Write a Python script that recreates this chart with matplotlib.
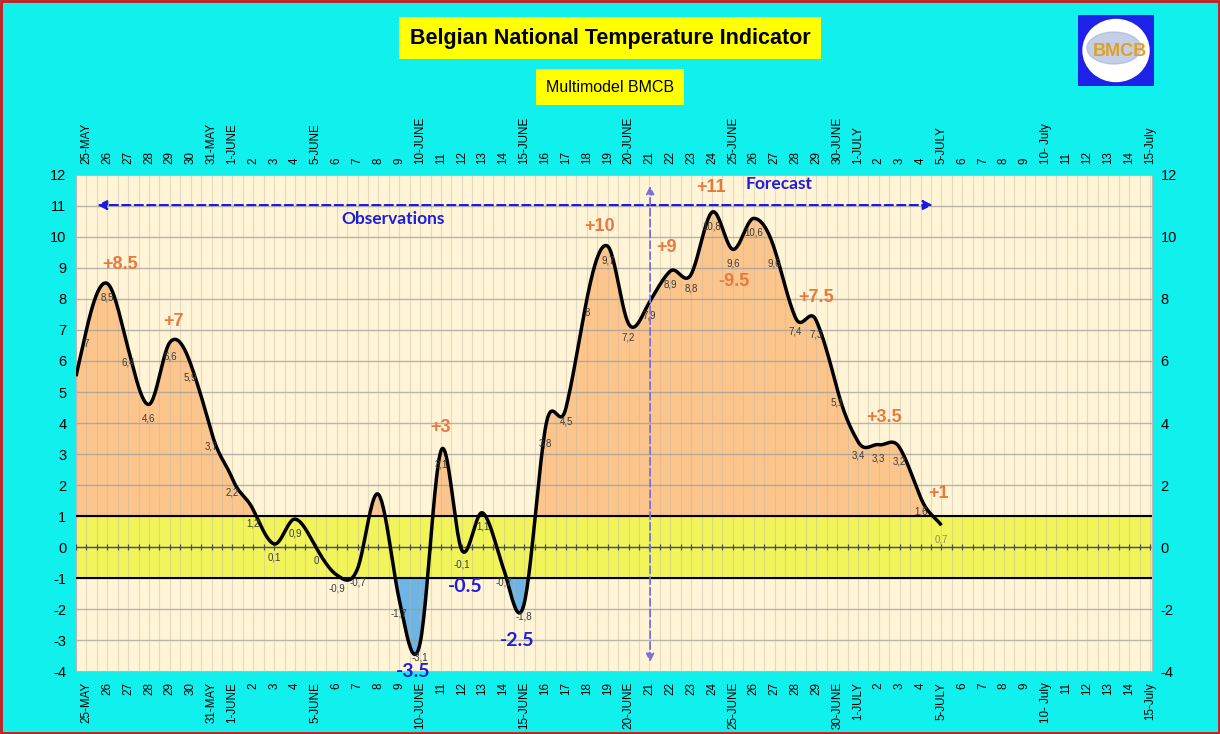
import numpy as np
import matplotlib
matplotlib.use("Agg")
import matplotlib.pyplot as plt
from matplotlib.patches import Rectangle, Ellipse

# Belgian National Temperature Indicator (multimodel BMCB)

# axis labels, 25 May .. 15 July
date_labels = (["25-MAY", "26", "27", "28", "29", "30", "31-MAY", "1-JUNE",
                "2", "3", "4", "5-JUNE", "6", "7", "8", "9", "10-JUNE",
                "11", "12", "13", "14", "15-JUNE", "16", "17", "18", "19",
                "20-JUNE", "21", "22", "23", "24", "25-JUNE", "26", "27",
                "28", "29", "30-JUNE", "1-JULY", "2", "3", "4", "5-JULY",
                "6", "7", "8", "9", "10- July", "11", "12", "13", "14", "15-July"])

# daily anomaly, day index 0 = 25 May (index -1 = 24 May, lead-in)
day_idx = list(range(-1, 42))
anomaly = [4.0, 7.0, 8.5, 6.4, 4.6, 6.6, 5.9, 3.7, 2.2, 1.2, 0.1, 0.9, 0.0,
           -0.9, -0.7, 1.7, -1.7, -3.1, 3.1, -0.1, 1.1, -0.7, -1.8, 3.8, 4.5,
           8.0, 9.7, 7.2, 7.9, 8.9, 8.8, 10.8, 9.6, 10.6, 9.6, 7.4, 7.3, 5.1,
           3.4, 3.3, 3.2, 1.6, 0.7]
# labels shown next to points ("" = hidden)
point_labels = ["", "7", "8,5", "6,4", "4,6", "6,6", "5,9", "3,7", "2,2", "1,2",
                "0,1", "0,9", "0", "-0,9", "-0,7", "", "-1,7", "-3,1", "3,1",
                "-0,1", "1,1", "-0,7", "-1,8", "3,8", "4,5", "8", "9,7", "7,2",
                "7,9", "8,9", "8,8", "10,8", "9,6", "10,6", "9,6", "7,4", "7,3",
                "5,1", "3,4", "3,3", "3,2", "1,6", "0,7"]

peak_text = ["+8.5", "+7", "+3", "+10", "+9", "+11", "-9.5", "+7.5", "+3.5", "+1"]
peak_x = [1.63, 4.16, 16.99, 24.6, 27.8, 29.95, 31.05, 34.98, 38.23, 40.86]
peak_y = [9.1, 7.29, 3.84, 10.35, 9.65, 11.6, 8.58, 8.06, 4.19, 1.71]

cold_text = ["-3.5", "-0.5", "-2.5"]
cold_x = [15.69, 18.18, 20.67]
cold_y = [-4.03, -1.26, -3.03]

CYAN = "#10F0EC"
CREAM = "#FFF4D6"
ORANGE = "#FCC58C"
BLUE_FILL = "#6DB5E6"
YELLOW = "#F2F55A"
ORANGE_TXT = "#E8783C"
BLUE_TXT = "#1E1EDC"


def smooth(x, y, k=1.3, n=24):
    # cardinal spline, a bit looser than catmull-rom (excel-like smoothing)
    x = np.asarray(x, float)
    y = np.asarray(y, float)
    m = np.zeros_like(y)
    m[1:-1] = k * (y[2:] - y[:-2]) / (x[2:] - x[:-2])
    m[0] = y[1] - y[0]
    m[-1] = y[-1] - y[-2]
    xs, ys = [], []
    for i in range(len(x) - 1):
        t = np.linspace(0, 1, n, endpoint=False)
        h = x[i + 1] - x[i]
        h00 = 2 * t**3 - 3 * t**2 + 1
        h10 = t**3 - 2 * t**2 + t
        h01 = -2 * t**3 + 3 * t**2
        h11 = t**3 - t**2
        xs.append(x[i] + t * h)
        ys.append(h00 * y[i] + h10 * h * m[i] + h01 * y[i + 1] + h11 * h * m[i + 1])
    xs.append([x[-1]])
    ys.append([y[-1]])
    return np.concatenate(xs), np.concatenate(ys)


plt.rcParams["font.family"] = ["Liberation Sans", "DejaVu Sans"]
plt.rcParams["axes.unicode_minus"] = False

fig = plt.figure(figsize=(12.2, 7.34), dpi=100, facecolor=CYAN)
fig.patches.append(Rectangle((0.001, 0.001), 0.998, 0.997, transform=fig.transFigure,
                             fill=False, edgecolor="#D01818", lw=2))

ax = fig.add_axes([0.0623, 0.0858, 0.8820, 0.6758])
ax.set_facecolor(CREAM)
xmin, xmax = -0.5, 51.1
ax.set_xlim(xmin, xmax)
ax.set_ylim(-4, 12)

xs, ys = smooth(day_idx, anomaly)
keep = xs >= xmin
xs, ys = xs[keep], ys[keep]

ax.axhspan(-1, 1, color=YELLOW, zorder=1, lw=0)
ax.fill_between(xs, ys, 1, where=ys > 1, interpolate=True, color=ORANGE, lw=0, zorder=1)
ax.fill_between(xs, ys, -1, where=ys < -1, interpolate=True, color=BLUE_FILL, lw=0, zorder=1)

# grid: half-day verticals, unit horizontals
for gx in np.arange(-0.5, xmax, 0.5):
    ax.axvline(gx, color="#BDB5A6", lw=0.8, alpha=0.4, zorder=2)
for gy in range(-3, 12):
    ax.axhline(gy, color="#9A9A9A", lw=1.0, alpha=0.7, zorder=2)
ax.axhline(1, color="black", lw=1.5, zorder=3)
ax.axhline(-1, color="black", lw=1.5, zorder=3)
ticks0 = np.arange(-0.5, xmax, 0.5)
ax.plot(ticks0, np.zeros_like(ticks0), color="#505050", lw=1, marker="|", ms=5,
        mew=0.9, zorder=3)

ax.plot(xs, ys, color="black", lw=2.5, zorder=5, solid_capstyle="butt")

for xi, yi, lab in zip(day_idx, anomaly, point_labels):
    if lab:
        col = "#8A8A6A" if xi == 41 else "#3A3A3A"
        ax.annotate(lab, (xi, yi), xytext=(0, -10), textcoords="offset points",
                    ha="center", va="center", fontsize=7, color=col, zorder=6)

for t, px, py in zip(peak_text, peak_x, peak_y):
    ax.text(px, py, t, ha="center", va="center", fontsize=13, fontweight="bold",
            color=ORANGE_TXT, zorder=7)
for t, px, py in zip(cold_text, cold_x, cold_y):
    ax.text(px, py, t, ha="center", va="center", fontsize=14, fontweight="bold",
            color=BLUE_TXT, family=["Lato", "DejaVu Sans"], zorder=7, clip_on=False)

ax.text(14.69, 10.58, "Observations", ha="center", va="center", fontsize=12.5,
        fontweight="bold", color=BLUE_TXT, family=["Lato", "DejaVu Sans"], zorder=7)
ax.text(33.2, 11.71, "Forecast", ha="center", va="center", fontsize=12.5,
        fontweight="bold", color=BLUE_TXT, family=["Lato", "DejaVu Sans"], zorder=7)

ax.annotate("", xy=(0.38, 11.03), xytext=(40.72, 11.03),
            arrowprops=dict(arrowstyle="<|-|>", color="#1A1AE6", lw=1.5,
                            linestyle=(0, (4, 2)), mutation_scale=14), zorder=7)
ax.annotate("", xy=(27.03, 11.74), xytext=(27.03, -3.8),
            arrowprops=dict(arrowstyle="<|-|>", color="#7A70E0", lw=1.3,
                            linestyle=(0, (4, 2)), mutation_scale=12), zorder=7)

ax.set_xticks(range(len(date_labels)))
ax.set_xticklabels(date_labels, rotation=90, fontsize=8.4)
ax.tick_params(axis="x", length=0, pad=8, top=True, labeltop=True, labelbottom=True)
ax.set_yticks(range(-4, 13))
ax.tick_params(axis="y", length=0, pad=7, labelsize=10.5)
for s in ax.spines.values():
    s.set_color("#B8B8B8")

ax2 = ax.twinx()
ax2.set_ylim(-4, 12)
ax2.set_yticks(range(-4, 13, 2))
ax2.tick_params(axis="y", length=0, pad=6, labelsize=10.5)
for s in ax2.spines.values():
    s.set_visible(False)

fig.text(0.5, 0.948, "Belgian National Temperature Indicator", ha="center", va="center",
         fontsize=15.5, fontweight="bold",
         bbox=dict(boxstyle="square,pad=0.5", fc="#FFFF00", ec="none"))
fig.text(0.5, 0.881, "Multimodel BMCB", ha="center", va="center", fontsize=11.5,
         bbox=dict(boxstyle="square,pad=0.65", fc="#FFFF00", ec="none"))

# logo
lax = fig.add_axes([1078 / 1220, 1 - 86 / 734, 76 / 1220, 71 / 734])
lax.set_xlim(0, 76)
lax.set_ylim(0, 71)
lax.axis("off")
lax.add_patch(Rectangle((0, 0), 76, 71, color="#1E22E8"))
lax.add_patch(Ellipse((38, 35.5), 66, 62, color="white"))
lax.add_patch(Ellipse((36, 38), 54, 32, color="#9DB0D8", alpha=0.6))
lax.text(42, 34, "BMCB", ha="center", va="center", fontsize=13, fontweight="bold",
         color="#E0A020")

fig.savefig("out.png", dpi=100, facecolor=CYAN)
